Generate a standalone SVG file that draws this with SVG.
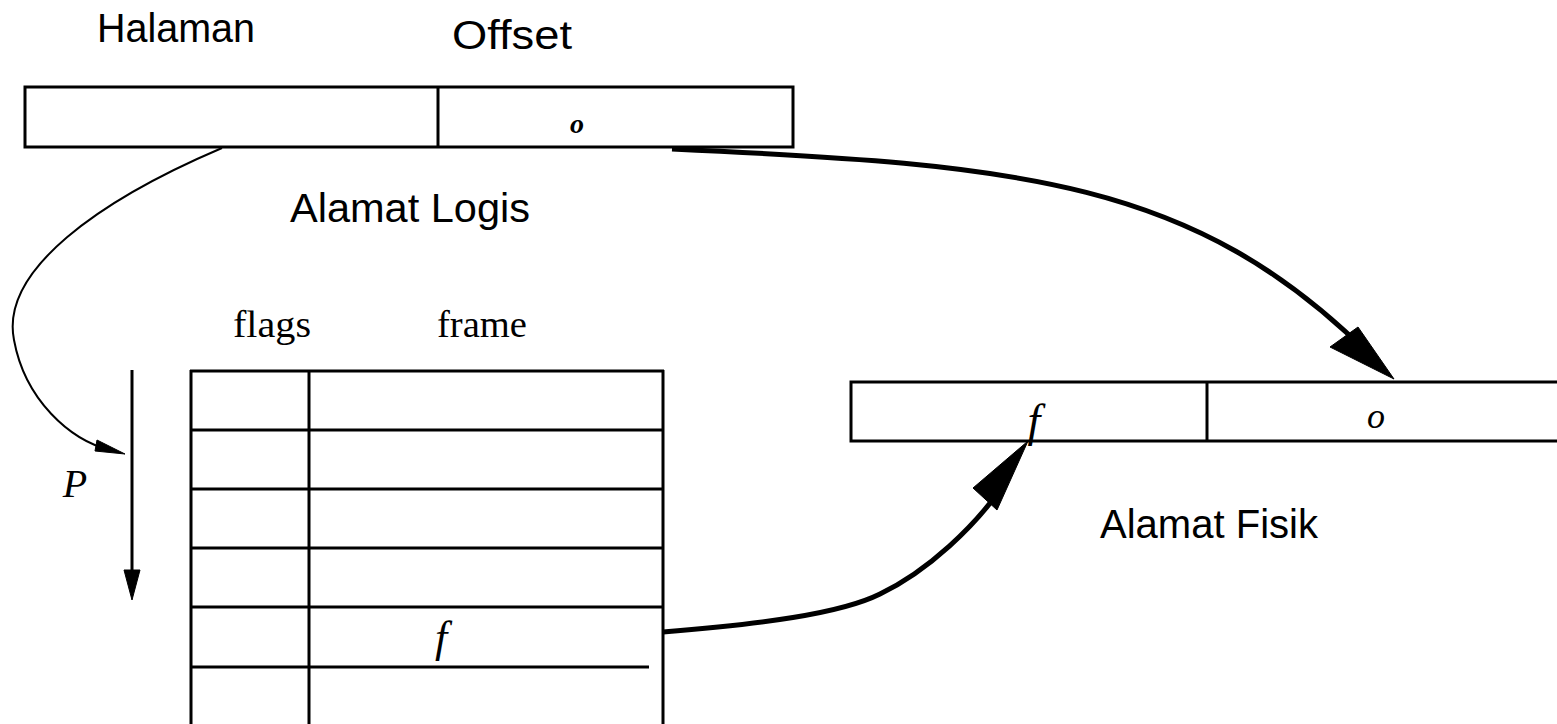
<svg xmlns="http://www.w3.org/2000/svg" width="1557" height="724" viewBox="0 0 1557 724">
<style>
.box{fill:none;stroke:#000;stroke-width:3}
.ln{stroke:#000;stroke-width:3;fill:none}
.lbl{font-family:"Liberation Sans",Arial,sans-serif;font-size:40px;fill:#000}
.ser{font-family:"Liberation Serif","Times New Roman",serif;font-size:38px;fill:#000}
.it{font-family:"Liberation Serif","Times New Roman",serif;font-style:italic;fill:#000}
.thick{stroke:#000;stroke-width:5;fill:none}
.thin{stroke:#000;stroke-width:2;fill:none}
.head{fill:#000;stroke:#000;stroke-width:1}
</style>
<rect width="1557" height="724" fill="#fff"/>
<g id="logical-address">
<rect class="box" x="25" y="87" width="768" height="60"/>
<line class="ln" x1="438" y1="87" x2="438" y2="147"/>
<text class="it" x="577" y="133" font-size="28" font-weight="bold" text-anchor="middle">o</text>
<text class="lbl" x="97" y="42" textLength="158" lengthAdjust="spacingAndGlyphs">Halaman</text>
<text class="lbl" x="452" y="49" textLength="120" lengthAdjust="spacingAndGlyphs">Offset</text>
<text class="lbl" x="290" y="222" textLength="240" lengthAdjust="spacingAndGlyphs">Alamat Logis</text>
</g>
<g id="page-table">
<text class="ser" x="233" y="337" textLength="78" lengthAdjust="spacingAndGlyphs">flags</text>
<text class="ser" x="437" y="337" textLength="90" lengthAdjust="spacingAndGlyphs">frame</text>
<line class="ln" x1="191" y1="370" x2="191" y2="724"/>
<line class="ln" x1="309" y1="370" x2="309" y2="724"/>
<line class="ln" x1="663" y1="370" x2="663" y2="724"/>
<line class="ln" x1="190" y1="371" x2="664" y2="371"/>
<line class="ln" x1="190" y1="430" x2="664" y2="430"/>
<line class="ln" x1="190" y1="489" x2="664" y2="489"/>
<line class="ln" x1="190" y1="548" x2="664" y2="548"/>
<line class="ln" x1="190" y1="607" x2="664" y2="607"/>
<line class="ln" x1="190" y1="667" x2="649" y2="667"/>
<text class="it" x="441" y="652" font-size="44" text-anchor="middle">f</text>
</g>
<g id="physical-address">
<polyline class="ln" points="1560,382 851,382 851,441 1560,441"/>
<line class="ln" x1="1207" y1="382" x2="1207" y2="441"/>
<text class="it" x="1034" y="436" font-size="46" text-anchor="middle">f</text>
<text class="it" x="1376" y="428" font-size="36" text-anchor="middle">o</text>
<text class="lbl" x="1100" y="538" textLength="218" lengthAdjust="spacingAndGlyphs">Alamat Fisik</text>
</g>
<g id="p-index">
<text class="it" x="75" y="497" font-size="40" text-anchor="middle">P</text>
</g>
<g id="connectors">
<path class="thin" d="M222,148 C100,200 0,270 14,340 C25,400 70,440 110,450"/>
<polygon class="head" points="125,454 97,440 95,451"/>
<line class="ln" x1="132" y1="370" x2="132" y2="590"/>
<polygon class="head" points="132,600 124,570 140,570"/>
<path class="thick" d="M672,149 C1022,165 1194,180 1370,355"/>
<polygon class="head" points="1394,379 1330,347 1358,327"/>
<path class="thick" d="M663,632 C760,624 840,614 880,594 C930,570 975,525 1000,490"/>
<polygon class="head" points="1028,441 973,488 997,510"/>
</g>
</svg>
